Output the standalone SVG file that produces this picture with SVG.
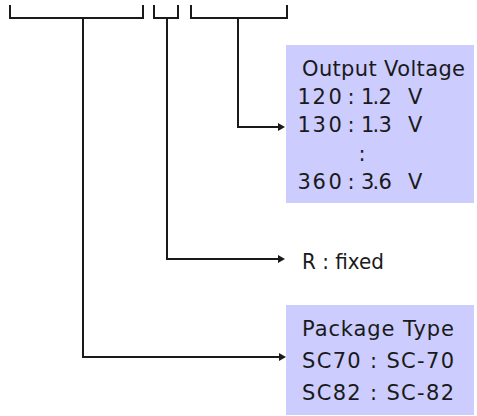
<svg xmlns="http://www.w3.org/2000/svg" width="477" height="416" viewBox="0 0 477 416">
<style>
.box{fill:#ccccff;stroke:none}
.t{font-family:"DejaVu Sans","Liberation Sans",sans-serif;font-size:21px;fill:#1a1a1a}
.ln{fill:none;stroke:#1a1a1a;stroke-width:2}
</style>
<defs>
<marker id="ah" markerUnits="userSpaceOnUse" markerWidth="8" markerHeight="9" refX="0" refY="4" orient="auto">
<path d="M0,0 L7,4 L0,8 z" fill="#1a1a1a"/>
</marker>
</defs>
<rect width="477" height="416" fill="#ffffff"/>
<g id="part-number">
<path class="ln" d="M10,5 V18 H143 V5"/>
<path class="ln" d="M154,5 V18 H178 V5"/>
<path class="ln" d="M191,5 V18 H287 V5"/>
</g>
<g id="connectors">
<path class="ln" d="M238,18 V127 H278" marker-end="url(#ah)"/>
<path class="ln" d="M167,18 V259 H278" marker-end="url(#ah)"/>
<path class="ln" d="M83,18 V357 H279" marker-end="url(#ah)"/>
</g>
<g id="output-voltage">
<rect class="box" x="286" y="45" width="188" height="158"/>
<text class="t" x="302" y="76" textLength="163" lengthAdjust="spacing">Output Voltage</text>
<text class="t" x="297.5 312.5 328.5 347.5 361 372.5 378.5 408" y="104">120:1.2V</text>
<text class="t" x="297.5 312.5 328.5 347.5 361 372.5 378.5 408" y="132">130:1.3V</text>
<text class="t" x="358.5" y="161">:</text>
<text class="t" x="297.5 312.5 328.5 347.5 361 372.5 378.5 408" y="189">360:3.6V</text>
</g>
<g id="r-fixed">
<text class="t" x="302" y="269" textLength="82" lengthAdjust="spacingAndGlyphs">R : fixed</text>
</g>
<g id="package-type">
<rect class="box" x="286" y="305" width="188" height="110"/>
<text class="t" x="302" y="336" textLength="152" lengthAdjust="spacing">Package Type</text>
<text class="t" x="302" y="368" textLength="152" lengthAdjust="spacing">SC70 : SC-70</text>
<text class="t" x="302" y="400" textLength="152" lengthAdjust="spacing">SC82 : SC-82</text>
</g>
</svg>
